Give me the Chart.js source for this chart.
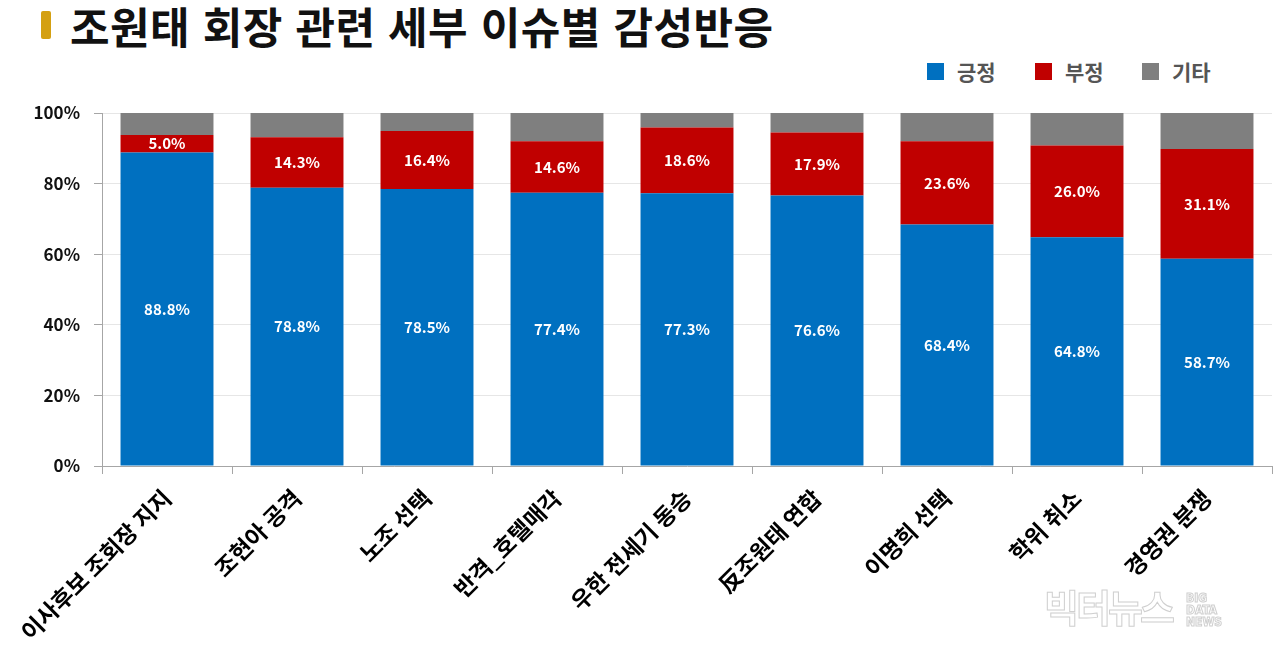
<!DOCTYPE html>
<html lang="ko">
<head>
<meta charset="utf-8">
<script src="https://cdn.jsdelivr.net/npm/chart.js@4.4.0/dist/chart.umd.min.js"></script>
<style>
  html, body { margin: 0; padding: 0; background: #fff; }
  body { width: 1280px; height: 661px; position: relative; overflow: hidden; font-family: "Noto Sans CJK KR", "Noto Sans", sans-serif; }
  #chartWrap { position: absolute; left: 0; top: 0; width: 1280px; height: 661px; }
  .title { position: absolute; left: 70px; top: -6px; font-size: 43px; letter-spacing: 0.5px; font-weight: 700; color: #111; white-space: nowrap; }
  .titleBar { position: absolute; left: 41px; top: 11px; width: 10px; height: 28px; background: #d4a012; border-radius: 2px; }
  .legend { position: absolute; top: 56px; font-size: 21px; font-weight: 700; color: #555; }
  .legend span.item { position: absolute; top: 0; display: flex; align-items: center; white-space: nowrap; }
  .legend i { display: inline-block; width: 17px; height: 17px; margin-right: 13px; }
  .wm { position: absolute; left: 1044px; top: 578px; color: transparent; -webkit-text-stroke: 1px #cfcfcf; font-weight: 700; }
  .wm .big { font-size: 38px; letter-spacing: -3px; }
  .wm .small { position: absolute; left: 142px; top: 14px; font-size: 12px; line-height: 12px; font-family: "DejaVu Sans Condensed", sans-serif; }
</style>
</head>
<body>
<div class="titleBar"></div>
<div class="title">조원태 회장 관련 세부 이슈별 감성반응</div>
<div class="legend">
  <span class="item" style="left:927px"><i style="background:#0070c0"></i>긍정</span>
  <span class="item" style="left:1035px"><i style="background:#c00000"></i>부정</span>
  <span class="item" style="left:1142px"><i style="background:#7f7f7f"></i>기타</span>
</div>
<div id="chartWrap"><canvas id="chart" width="1280" height="661"></canvas></div>
<div class="wm"><span class="big">빅터뉴스</span><div class="small">BIG<br>DATA<br>NEWS</div></div>

<script>
const categories = ['이사후보 조회장 지지', '조현아 공격', '노조 선택', '반격_호텔매각', '우한 전세기 동승', '反조원태 연합', '이명희 선택', '학위 취소', '경영권 분쟁'];
const positive = [88.8, 78.8, 78.5, 77.4, 77.3, 76.6, 68.4, 64.8, 58.7];
const negative = [5.0, 14.3, 16.4, 14.6, 18.6, 17.9, 23.6, 26.0, 31.1];
const other = [6.2, 6.9, 5.1, 8.0, 4.1, 5.5, 8.0, 9.2, 10.2];
const yTicks = [0, 20, 40, 60, 80, 100];

const FONT = '"Noto Sans CJK KR", "Noto Sans", sans-serif';

// white value labels inside the 긍정 / 부정 segments
const segmentLabels = {
    id: 'segmentLabels',
    afterDatasetsDraw(chart) {
        const ctx = chart.ctx;
        ctx.save();
        ctx.fillStyle = '#fff';
        ctx.font = 'bold 15px ' + FONT;
        ctx.textAlign = 'center';
        ctx.textBaseline = 'middle';
        [0, 1].forEach(di => {
            const meta = chart.getDatasetMeta(di);
            const data = chart.data.datasets[di].data;
            meta.data.forEach((bar, i) => {
                const p = bar.getProps(['x', 'y', 'base'], true);
                ctx.fillText(data[i].toFixed(1) + '%', p.x, (p.y + p.base) / 2);
            });
        });
        ctx.restore();
    }
};

new Chart(document.getElementById('chart'), {
    type: 'bar',
    data: {
        labels: categories,
        datasets: [
            { label: '긍정', data: positive, backgroundColor: '#0070c0' },
            { label: '부정', data: negative, backgroundColor: '#c00000' },
            { label: '기타', data: other, backgroundColor: '#7f7f7f' }
        ]
    },
    options: {
        responsive: false,
        animation: false,
        layout: { padding: { top: 113, right: 8, left: 0, bottom: 0 } },
        datasets: { bar: { categoryPercentage: 1, barPercentage: 0.715, borderWidth: 0 } },
        plugins: { legend: { display: false }, tooltip: { enabled: false } },
        scales: {
            x: {
                stacked: true,
                grid: { drawOnChartArea: false, drawTicks: true, tickLength: 8, color: '#a6a6a6' },
                border: { color: '#a6a6a6', width: 1 },
                ticks: {
                    color: '#000',
                    font: { family: FONT, size: 23, weight: 'bold' },
                    minRotation: 45,
                    maxRotation: 45,
                    autoSkip: false,
                    padding: 10
                },
                afterFit(scale) { scale.height = 195; }
            },
            y: {
                stacked: true,
                min: 0,
                max: 100,
                afterBuildTicks(scale) { scale.ticks = yTicks.map(v => ({ value: v })); },
                grid: { color: '#e6e6e6', tickLength: 8, tickColor: '#a6a6a6' },
                border: { color: '#a6a6a6', width: 1 },
                ticks: {
                    color: '#111',
                    font: { family: FONT, size: 17, weight: 'bold' },
                    padding: 14,
                    callback: v => v + '%'
                },
                afterFit(scale) { scale.width = 102; }
            }
        }
    },
    plugins: [segmentLabels]
});
</script>
</body>
</html>
